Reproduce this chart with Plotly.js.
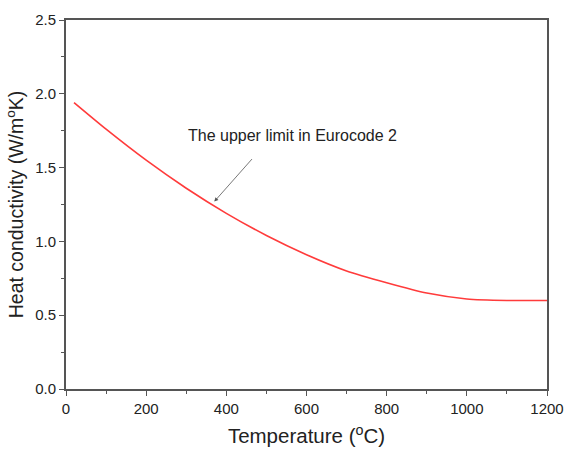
<!DOCTYPE html>
<html>
<head>
<meta charset="utf-8">
<script src="https://cdn.plot.ly/plotly-3.0.1.min.js"></script>
<style>
  html, body { margin: 0; padding: 0; background: #fff; }
  #chart { width: 566px; height: 452px; }
</style>
</head>
<body>
<div id="chart"></div>
<script>
// Thermal conductivity of concrete vs temperature (upper limit curve)
const temperature = [20, 100, 200, 300, 400, 500, 600, 700, 800, 900, 1000, 1100, 1200];
const conductivity = [1.94, 1.76, 1.55, 1.36, 1.19, 1.04, 0.91, 0.80, 0.72, 0.65, 0.61, 0.60, 0.60];

const xTicks = [0, 200, 400, 600, 800, 1000, 1200];
const yTicks = [0.0, 0.5, 1.0, 1.5, 2.0, 2.5];
const yTickText = ['0.0', '0.5', '1.0', '1.5', '2.0', '2.5'];

const axisColor = '#555555';
const font = { family: 'Liberation Sans, Arial, sans-serif', color: '#222222' };

const trace = {
  x: temperature,
  y: conductivity,
  type: 'scatter',
  mode: 'lines',
  line: { color: '#ff3b3b', width: 1.6, shape: 'spline', smoothing: 0.6 },
  showlegend: false,
  hoverinfo: 'skip'
};

const layout = {
  width: 566,
  height: 452,
  margin: { l: 66, r: 19, t: 20, b: 63 },
  paper_bgcolor: '#ffffff',
  plot_bgcolor: '#ffffff',
  font: Object.assign({ size: 15 }, font),
  xaxis: {
    range: [0, 1200],
    tickvals: xTicks,
    ticks: 'outside',
    ticklen: 5,
    tickwidth: 1,
    tickcolor: axisColor,
    minor: { ticks: 'outside', ticklen: 3, tickwidth: 1, tickcolor: axisColor, dtick: 100, tick0: 0, showgrid: false },
    showline: true,
    linecolor: axisColor,
    linewidth: 2,
    mirror: true,
    showgrid: false,
    zeroline: false,
    tickfont: { size: 15 },
    title: { text: 'Temperature (<sup>o</sup>C)', font: { size: 20.5 }, standoff: 13 }
  },
  yaxis: {
    range: [0, 2.5],
    tickvals: yTicks,
    ticktext: yTickText,
    ticks: 'outside',
    ticklen: 5,
    tickwidth: 1,
    tickcolor: axisColor,
    minor: { ticks: 'outside', ticklen: 3, tickwidth: 1, tickcolor: axisColor, dtick: 0.25, tick0: 0, showgrid: false },
    showline: true,
    linecolor: axisColor,
    linewidth: 2,
    mirror: true,
    showgrid: false,
    zeroline: false,
    tickfont: { size: 15 },
    title: { text: 'Heat conductivity (W/m<sup>o</sup>K)', font: { size: 19.5 }, standoff: 6 }
  },
  annotations: [
    {
      x: 370, y: 1.27, xref: 'x', yref: 'y',
      ax: 39, ay: -44,
      showarrow: true,
      arrowhead: 2,
      arrowsize: 1,
      arrowwidth: 0.8,
      arrowcolor: '#555555',
      text: ''
    },
    {
      x: 564, y: 1.715, xref: 'x', yref: 'y',
      showarrow: false,
      text: 'The upper limit in Eurocode 2',
      font: { size: 16, color: '#222222' }
    }
  ]
};

Plotly.newPlot('chart', [trace], layout, { displayModeBar: false, staticPlot: true });
</script>
</body>
</html>
